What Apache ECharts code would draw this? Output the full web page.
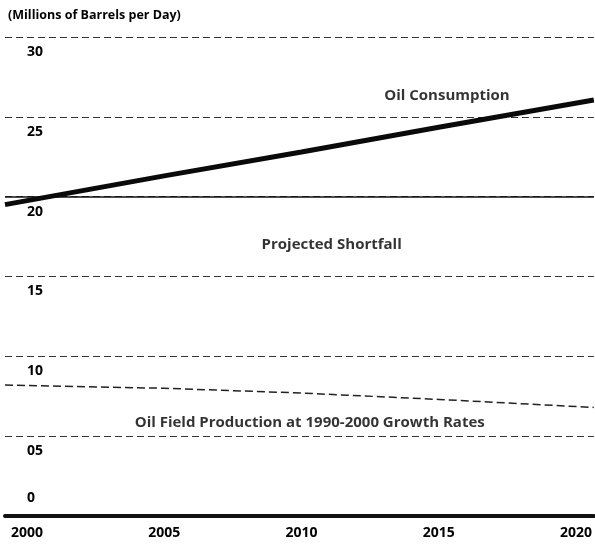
<!DOCTYPE html>
<html>
<head>
<meta charset="utf-8">
<script src="https://cdn.jsdelivr.net/npm/echarts@6/dist/echarts.min.js"></script>
<style>
    html, body {margin: 0; padding: 0; background: #fff;}
    #chart {width: 595px; height: 546px;}
</style>
</head>
<body>
<div id="chart"></div>
<script>
// years read at the plot edges and on the 5-year ticks
var years = [1999.2, 2005, 2010, 2015, 2020.65];
var consumption = [19.5, 21.3, 22.8, 24.35, 26.05];
var production = [8.2, 8.0, 7.7, 7.3, 6.8];
var xTicks = [2000, 2005, 2010, 2015, 2020];
var yTickLabels = {0: '0', 5: '05', 10: '10', 15: '15', 20: '20', 25: '25', 30: '30'};
var notes = ['Oil Consumption', 'Projected Shortfall', 'Oil Field Production at 1990-2000 Growth Rates'];

var FONT = 'Open Sans';
var chart = echarts.init(document.getElementById('chart'));

function pairs(xs, ys) {
    return xs.map(function (x, i) { return [x, ys[i]]; });
}

//标注文字的位置（数据坐标）
var notePos = [[2015.3, 26.35], [2011.1, 17.0], [2010.3, 5.85]];

option = {
    backgroundColor: '#ffffff',
    animation: false,
    title: {
        text: '(Millions of Barrels per Day)',
        left: 3,
        top: 4,
        textStyle: {fontFamily: FONT, fontSize: 12.5, fontWeight: 'bold', color: '#000'}
    },
    grid: {left: 5, right: 0, top: 37, bottom: 30},
    xAxis: {
        type: 'value',
        min: 1999.2,
        max: 2020.65,
        axisLine: {show: true, lineStyle: {color: '#111', width: 4}},
        axisTick: {show: false},
        splitLine: {show: false},
        axisLabel: {
            customValues: xTicks,
            margin: 10,
            fontFamily: FONT,
            fontSize: 14,
            fontWeight: 'bold',
            color: '#000',
            formatter: function (v) { return String(v); }
        }
    },
    yAxis: [{
        type: 'value',
        min: 0,
        max: 30,
        interval: 5,
        axisLine: {show: false},
        axisTick: {show: false},
        splitLine: {lineStyle: {color: '#333', width: 1.2, type: [7, 4]}},
        axisLabel: {
            inside: true,
            margin: 22,
            verticalAlign: 'top',
            padding: [8, 0, 0, 0],
            fontFamily: FONT,
            fontSize: 14,
            fontWeight: 'bold',
            color: '#000',
            formatter: function (v) { return v === 0 ? '' : yTickLabels[v]; }
        }
    }, {
        type: 'value',
        min: 0,
        max: 30,
        interval: 5,
        position: 'left',
        axisLine: {show: false},
        axisTick: {show: false},
        splitLine: {show: false},
        axisLabel: {
            inside: true,
            margin: 22,
            verticalAlign: 'bottom',
            padding: [0, 0, 11, 0],
            fontFamily: FONT,
            fontSize: 14,
            fontWeight: 'bold',
            color: '#000',
            formatter: function (v) { return v === 0 ? yTickLabels[0] : ''; }
        }
    }],
    series: [{
        name: 'Oil Consumption',
        type: 'line',
        data: pairs(years, consumption),
        symbol: 'none',
        lineStyle: {color: '#0a0a0a', width: 5},
        z: 5,
        markLine: {
            silent: true,
            symbol: 'none',
            label: {show: false},
            lineStyle: {color: '#111', width: 1.5, type: 'solid'},
            data: [{yAxis: 20}]
        }
    }, {
        name: 'Oil Field Production',
        type: 'line',
        data: pairs(years, production),
        symbol: 'none',
        lineStyle: {color: '#222', width: 1.5, type: [8, 4]}
    }, {
        name: 'notes',
        type: 'scatter',
        symbolSize: 0,
        data: notePos.map(function (p, i) { return [p[0], p[1], notes[i]]; }),
        label: {
            show: true,
            position: 'inside',
            fontFamily: FONT,
            fontSize: 15,
            fontWeight: 'bold',
            color: '#000',
            formatter: function (p) { return p.data[2]; }
        },
        z: 6
    }]
};
chart.setOption(option);
</script>
</body>
</html>
